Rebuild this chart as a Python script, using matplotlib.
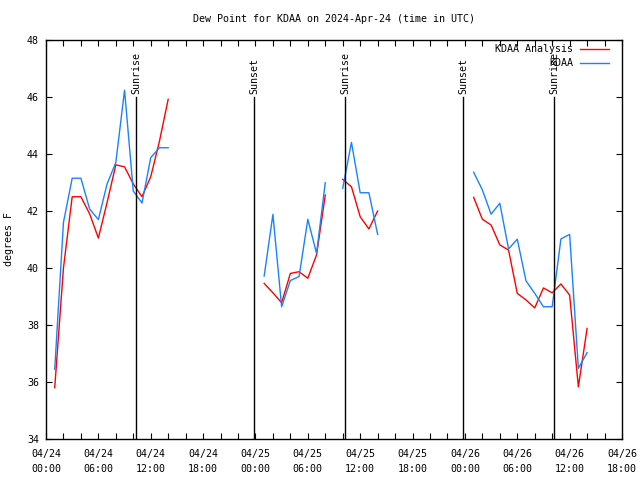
import numpy as np
import matplotlib
matplotlib.use('Agg')
from matplotlib import pyplot as plt
from matplotlib.lines import Line2D

plt.rcParams['font.family'] = ['DejaVu Sans Mono']
plt.rcParams['font.size'] = 7.2

# hours since 2024-04-24 00:00 UTC, nan entries break the lines
hours = [1, 2, 3, 4, 5, 6, 7, 8, 9, 10, 11, 12, 13, 14, 15,
         25, 26, 27, 28, 29, 30, 31, 32, 33, 34, 35, 36, 37, 38, 39,
         49, 50, 51, 52, 53, 54, 55, 56, 57, 58, 59, 60, 61, 62]
nan = np.nan
analysis = [35.8, 40.0, 42.5, 42.5, 41.9, 41.05, 42.3, 43.62, 43.55, 42.95, 42.5, 43.2, 44.45, 45.92, nan,
            39.46, 39.13, 38.78, 39.81, 39.87, 39.64, 40.46, 42.56, nan, 43.11, 42.85, 41.8, 41.37, 42.0, nan,
            42.48, 41.71, 41.51, 40.81, 40.63, 39.11, 38.88, 38.6, 39.3, 39.13, 39.44, 39.05, 35.83, 37.88]
observed = [36.45, 41.6, 43.15, 43.15, 42.07, 41.7, 42.95, 43.7, 46.24, 42.7, 42.28, 43.87, 44.22, 44.22, nan,
            39.72, 41.88, 38.64, 39.56, 39.7, 41.71, 40.51, 42.99, nan, 42.8, 44.41, 42.64, 42.64, 41.18, nan,
            43.36, 42.74, 41.89, 42.27, 40.67, 41.01, 39.55, 39.11, 38.64, 38.64, 41.02, 41.18, 36.48, 37.03]

sun_hours = [10.31, 23.87, 34.3, 47.82, 58.25]
sun_names = ['Sunrise', 'Sunset', 'Sunrise', 'Sunset', 'Sunrise']

tick_hours = [0, 6, 12, 18, 24, 30, 36, 42, 48, 54, 60, 66]
tick_labels = ['04/24\n00:00', '04/24\n06:00', '04/24\n12:00', '04/24\n18:00',
               '04/25\n00:00', '04/25\n06:00', '04/25\n12:00', '04/25\n18:00',
               '04/26\n00:00', '04/26\n06:00', '04/26\n12:00', '04/26\n18:00']

red = '#ff0000'
blue = '#1a82ff'

fig = plt.figure(figsize=(6.4, 4.8), dpi=100)
ax = fig.add_axes([46/640, 1 - 439/480, 576/640, 399/480])

ax.plot(hours, analysis, color=red, lw=1.0)
ax.plot(hours, observed, color=blue, lw=1.0)

for h, name in zip(sun_hours, sun_names):
    ax.plot([h, h], [34, 46], color='black', lw=1.0)
    ax.text(h, 46.1, name, rotation=90, ha='center', va='bottom')

ax.set_xlim(0, 66)
ax.set_ylim(34, 48)
ax.set_xticks(tick_hours)
ax.set_xticklabels(tick_labels, linespacing=1.6)
ax.set_xticks(np.arange(0, 67, 2), minor=True)
ax.set_yticks(np.arange(34, 49, 2))
ax.tick_params(which='both', direction='in', top=True, right=True, length=4, width=0.8)
ax.tick_params(axis='x', pad=7)
ax.tick_params(axis='y', pad=5)
for s in ax.spines.values():
    s.set_linewidth(1.0)

ax.set_ylabel('degrees F')
ax.yaxis.set_label_coords(-0.0556, 0.5)

fig.text((46 + 622) / 2 / 640, 1 - 19/480, 'Dew Point for KDAA on 2024-Apr-24 (time in UTC)',
         ha='center', va='center')

# legend drawn by hand, text right aligned like gnuplot
ax.text(0.915, 0.977, 'KDAA Analysis', transform=ax.transAxes, ha='right', va='center')
ax.add_line(Line2D([0.927, 0.977], [0.977, 0.977], color=red, lw=1.0, transform=ax.transAxes))
ax.text(0.915, 0.942, 'KDAA', transform=ax.transAxes, ha='right', va='center')
ax.add_line(Line2D([0.927, 0.977], [0.942, 0.942], color=blue, lw=1.0, transform=ax.transAxes))

fig.savefig('out.png', dpi=100)
